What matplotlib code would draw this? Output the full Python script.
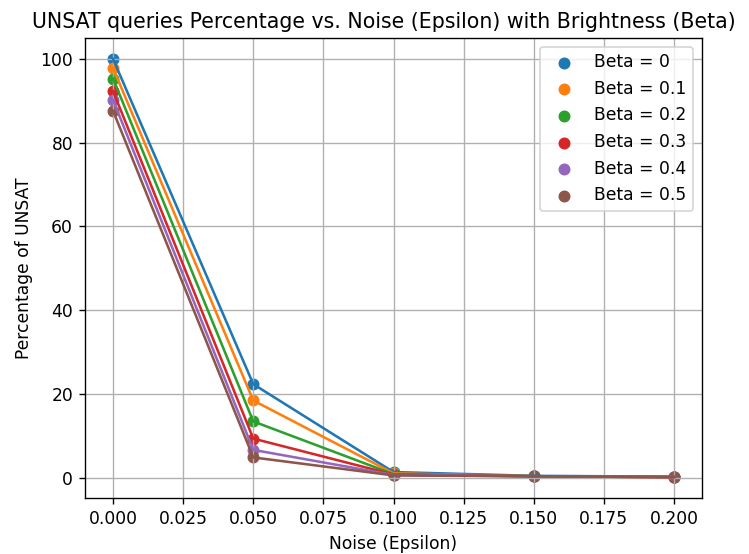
import matplotlib
matplotlib.use("Agg")
import matplotlib.pyplot as plt

epsilons = [0.0, 0.05, 0.1, 0.15, 0.2]
betas = [0, 0.1, 0.2, 0.3, 0.4, 0.5]

unsat_b0 = [100.0, 22.3, 1.3, 0.4, 0.2]
unsat_b01 = [97.8, 18.4, 1.0, 0.3, 0.1]
unsat_b02 = [95.3, 13.4, 0.8, 0.3, 0.1]
unsat_b03 = [92.3, 9.3, 0.7, 0.3, 0.1]
unsat_b04 = [90.2, 6.6, 0.6, 0.3, 0.1]
unsat_b05 = [87.6, 4.8, 0.5, 0.3, 0.1]
series = [unsat_b0, unsat_b01, unsat_b02, unsat_b03, unsat_b04, unsat_b05]

DPI = 123
fig, ax = plt.subplots(figsize=(749 / DPI, 554 / DPI), dpi=DPI)
for beta, vals in zip(betas, series):
    sc = ax.scatter(epsilons, vals, label=f"Beta = {beta}")
    ax.plot(epsilons, vals, color=sc.get_facecolor()[0])

# the original image looks cropped a bit on the right, title sits left of centre
ax.set_title("UNSAT queries Percentage vs. Noise (Epsilon) with Brightness (Beta)", x=0.485)
ax.set_xlabel("Noise (Epsilon)")
ax.set_ylabel("Percentage of UNSAT")
ax.grid(True)
ax.legend(loc="upper right")
plt.subplots_adjust(left=85 / 749, right=702 / 749, top=1 - 38 / 554, bottom=1 - 498 / 554)
fig.savefig("out.png", dpi=DPI)
